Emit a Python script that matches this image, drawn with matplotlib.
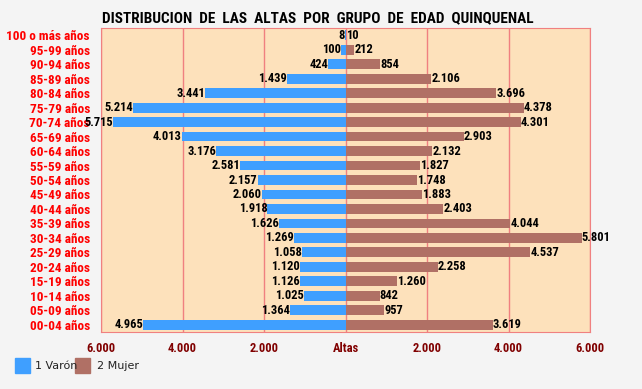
import matplotlib.pyplot as plt
import numpy as np

grupos = ["100 o más años", "95-99 años", "90-94 años", "85-89 años", "80-84 años",
          "75-79 años", "70-74 años", "65-69 años", "60-64 años", "55-59 años",
          "50-54 años", "45-49 años", "40-44 años", "35-39 años", "30-34 años",
          "25-29 años", "20-24 años", "15-19 años", "10-14 años", "05-09 años",
          "00-04 años"]
varon = [8, 100, 424, 1439, 3441, 5214, 5715, 4013, 3176, 2581, 2157, 2060,
         1918, 1626, 1269, 1058, 1120, 1126, 1025, 1364, 4965]
mujer = [10, 212, 854, 2106, 3696, 4378, 4301, 2903, 2132, 1827, 1748, 1883,
         2403, 4044, 5801, 4537, 2258, 1260, 842, 957, 3619]
ticks = [-6000, -4000, -2000, 0, 2000, 4000, 6000]
tick_labels = ["6.000", "4.000", "2.000", "Altas", "2.000", "4.000", "6.000"]

fuente = ['Roboto Condensed', 'DejaVu Sans']


def fmt(v):
    return f"{v:,}".replace(",", ".")


fig = plt.figure(figsize=(6.42, 3.89), dpi=100, facecolor='#f4f4f4')
ax = fig.add_axes([101 / 642, 1 - 332 / 389, 489 / 642, 304 / 389])
ax.set_facecolor('#fde1bb')

y = np.arange(len(grupos))[::-1]
ax.barh(y, [-v for v in varon], height=0.68, color='#3f9fff', zorder=3)
ax.barh(y, mujer, height=0.68, color='#b07065', zorder=3)

for yi, v in zip(y, varon):
    ax.text(-v, yi, fmt(v), ha='right', va='center', fontsize=9, fontweight='bold',
            family=fuente, zorder=4)
for yi, v in zip(y, mujer):
    ax.text(v, yi, fmt(v), ha='left', va='center', fontsize=9, fontweight='bold',
            family=fuente, zorder=4)

ax.set_xlim(-6000, 6000)
ax.set_ylim(-0.5, len(grupos) - 0.5)
ax.set_xticks(ticks)
ax.set_xticklabels(tick_labels, color='#800000', fontsize=9, fontweight='bold', family=fuente)
ax.set_yticks(y)
ax.set_yticklabels(grupos, color='#ff0000', fontsize=9.5, fontweight='bold', family=fuente)
ax.tick_params(length=0)
ax.tick_params(axis='y', pad=8)
ax.tick_params(axis='x', pad=7)
for t in ticks:
    ax.axvline(t, color='#f08080', lw=1, zorder=1)
for s in ax.spines.values():
    s.set_color('#f08080')

fig.text(318 / 642, 1 - 18 / 389, "DISTRIBUCION  DE  LAS  ALTAS  POR  GRUPO  DE  EDAD  QUINQUENAL",
         ha='center', va='center', fontsize=11, fontweight='bold', family=fuente)

# leyenda
fig.patches.append(plt.Rectangle((15 / 642, 1 - 373 / 389), 15 / 642, 15 / 389,
                                 color='#3f9fff', transform=fig.transFigure))
fig.text(35 / 642, 1 - 366 / 389, "1 Varón", ha='left', va='center', fontsize=8, color='#222222')
fig.patches.append(plt.Rectangle((75 / 642, 1 - 373 / 389), 15 / 642, 15 / 389,
                                 color='#b07065', transform=fig.transFigure))
fig.text(97 / 642, 1 - 366 / 389, "2 Mujer", ha='left', va='center', fontsize=8, color='#222222')

fig.savefig("out.png", dpi=100, facecolor=fig.get_facecolor())
